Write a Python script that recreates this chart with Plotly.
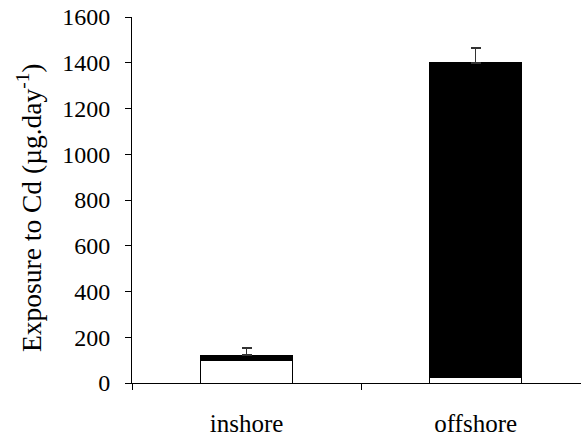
import plotly.graph_objects as go

categories = ["inshore", "offshore"]
white_values = [100, 25]
black_values = [22, 1375]
black_errors = [30, 65]
error_minus = [0, 0]
y_ticks = [0, 200, 400, 600, 800, 1000, 1200, 1400, 1600]
y_title = "Exposure to Cd (µg.day<sup>-1</sup>)"

fig = go.Figure()
fig.add_trace(go.Bar(
    x=categories, y=white_values, marker=dict(color="white", line=dict(color="black", width=1)),
    width=0.4, showlegend=False))
fig.add_trace(go.Bar(
    x=categories, y=black_values, marker=dict(color="black", line=dict(color="black", width=1)),
    width=0.4, showlegend=False,
    error_y=dict(type="data", array=black_errors, arrayminus=error_minus, symmetric=False,
                 color="#333333", thickness=1.5, width=5)))

fam = "Liberation Serif"
fig.update_layout(
    barmode="stack",
    width=581, height=440,
    margin=dict(l=132, r=0, t=17, b=57, autoexpand=False),
    paper_bgcolor="white", plot_bgcolor="white",
    font=dict(family=fam, size=22, color="black"),
    xaxis=dict(type="category", range=[-0.5, 1.46], showline=True, linecolor="black", linewidth=1,
               ticks="outside", tickson="boundaries", ticklen=6, tickcolor="black",
               showgrid=False, ticklabelstandoff=18, automargin=False,
               ticklabeloverflow="allow",
               tickfont=dict(family=fam, size=25, color="black")),
    yaxis=dict(range=[0, 1600], tickvals=y_ticks, showline=True, linecolor="black", linewidth=1,
               ticks="outside", ticklen=6, tickcolor="black", showgrid=False, zeroline=False,
               ticklabelstandoff=10, automargin=False, ticklabeloverflow="allow",
               tickfont=dict(family=fam, size=24, color="black")),
    annotations=[dict(text=y_title, textangle=-90, xref="paper", yref="paper",
                      x=(29 - 132) / 449, y=(383 - 208) / 366, xanchor="center", yanchor="middle",
                      showarrow=False, font=dict(family=fam, size=27.5, color="black"))],
)
fig.write_html("out.html", config={"displayModeBar": False},
               post_script="document.body.style.margin='0';")
